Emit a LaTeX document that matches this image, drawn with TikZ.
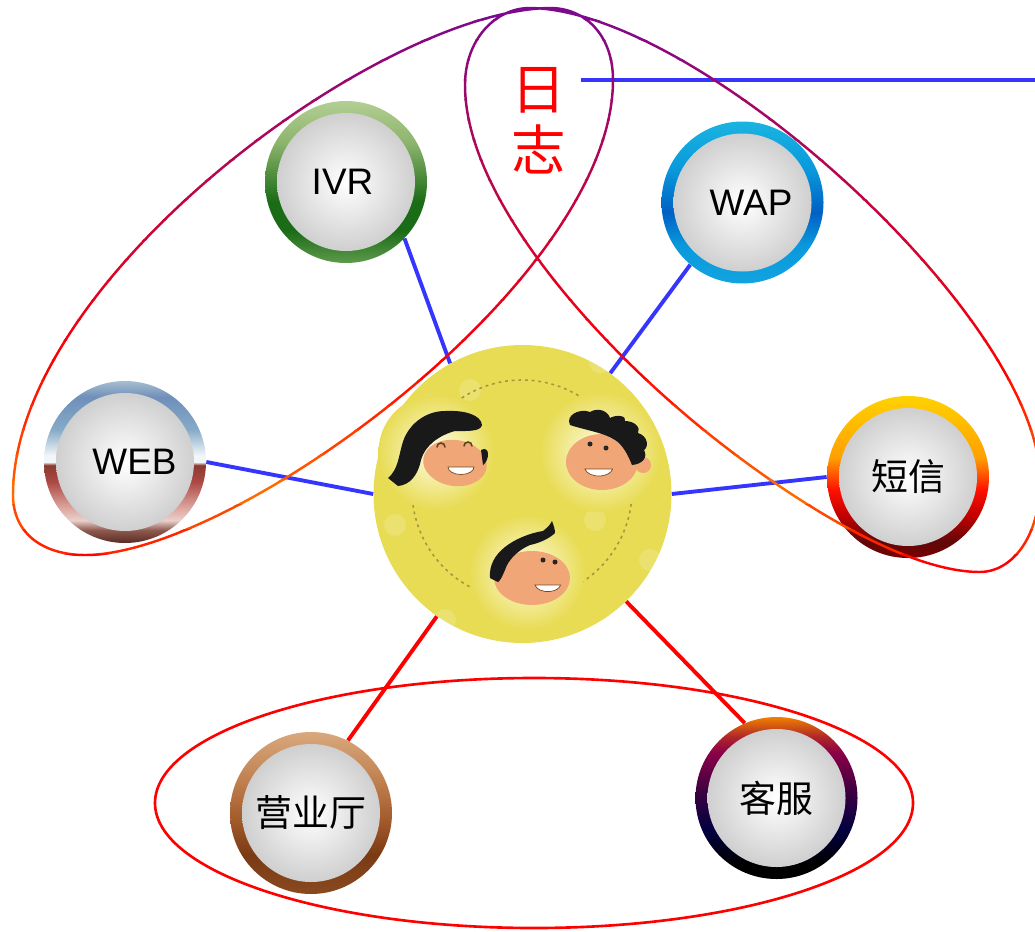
\documentclass[tikz,border=0pt]{standalone}
\usepackage{fontspec}
\setmainfont{Liberation Sans}
\newfontfamily\cjkfont{Noto Sans CJK SC}
\usetikzlibrary{calc}

\newcommand{\ringfont}{\fontsize{21}{24}\selectfont}

% ring colours (top / middle / bottom)
\definecolor{ivrT}{HTML}{B3CE93}
\definecolor{ivrL}{HTML}{8CB46C}
\definecolor{ivrD}{HTML}{1B6C16}
\definecolor{ivrB}{HTML}{5E9A4C}
\definecolor{wapT}{HTML}{19B4E0}
\definecolor{wapL}{HTML}{0A98DC}
\definecolor{wapD}{HTML}{0060C4}
\definecolor{wapB}{HTML}{12A4E0}
\definecolor{webT}{HTML}{A6BED0}
\definecolor{webS}{HTML}{6F8FBA}
\definecolor{webL}{HTML}{85AAC8}
\definecolor{webW}{HTML}{F2F6F8}
\definecolor{webR}{HTML}{8A3A30}
\definecolor{webM}{HTML}{AC4844}
\definecolor{webP}{HTML}{DCA49C}
\definecolor{webQ}{HTML}{EAD0CC}
\definecolor{webK}{HTML}{8E5A50}
\definecolor{webB}{HTML}{5A2A22}
\definecolor{smsT}{HTML}{FFD200}
\definecolor{smsO}{HTML}{FFA000}
\definecolor{smsR}{HTML}{FF1000}
\definecolor{smsD}{HTML}{C00000}
\definecolor{smsK}{HTML}{600808}
\definecolor{smsB}{HTML}{7A0000}
\definecolor{hallT}{HTML}{D8A87C}
\definecolor{hallL}{HTML}{C08050}
\definecolor{hallM}{HTML}{A05828}
\definecolor{hallD}{HTML}{7A3A14}
\definecolor{hallB}{HTML}{8A4A20}
\definecolor{svcT}{HTML}{F08000}
\definecolor{svcR}{HTML}{B02828}
\definecolor{svcM}{HTML}{8A0048}
\definecolor{svcP}{HTML}{3C0040}
\definecolor{svcN}{HTML}{000040}
\definecolor{svcB}{HTML}{000000}

\definecolor{hubyellow}{HTML}{E8DC55}
\definecolor{skin}{HTML}{F0A676}
\definecolor{glow}{HTML}{FFFDE8}
\definecolor{dotline}{HTML}{A8963C}
\definecolor{linkblue}{HTML}{3535FF}
\definecolor{loopPurple}{HTML}{7D0A8C}
\definecolor{loopRed}{HTML}{FF0000}
\definecolor{loopOrange}{HTML}{FF6A00}

% vertical ring shadings, interesting part between 25bp (bottom) and 75bp (top)
\pgfdeclareverticalshading{ivrring}{100bp}{color(0bp)=(ivrB); color(25bp)=(ivrB); color(35bp)=(ivrD); color(44bp)=(ivrD); color(62bp)=(ivrL); color(75bp)=(ivrT); color(100bp)=(ivrT)}
\pgfdeclareverticalshading{wapring}{100bp}{color(0bp)=(wapB); color(25bp)=(wapB); color(37bp)=(wapL); color(47bp)=(wapD); color(60bp)=(wapL); color(75bp)=(wapT); color(100bp)=(wapT)}
\pgfdeclareverticalshading{webring}{100bp}{color(0bp)=(webB); color(25bp)=(webB); color(29bp)=(webK); color(32bp)=(webQ); color(36bp)=(webP); color(44bp)=(webM); color(49bp)=(webR); color(50bp)=(webW); color(52bp)=(webW); color(60bp)=(webL); color(70bp)=(webS); color(75bp)=(webT); color(100bp)=(webT)}
\pgfdeclareverticalshading{smsring}{100bp}{color(0bp)=(smsB); color(25bp)=(smsB); color(30bp)=(smsK); color(38bp)=(smsD); color(46bp)=(smsR); color(56bp)=(smsO); color(75bp)=(smsT); color(100bp)=(smsT)}
\pgfdeclareverticalshading{hallring}{100bp}{color(0bp)=(hallB); color(25bp)=(hallB); color(37bp)=(hallD); color(47bp)=(hallM); color(60bp)=(hallL); color(75bp)=(hallT); color(100bp)=(hallT)}
\pgfdeclareverticalshading{svcring}{100bp}{color(0bp)=(svcB); color(25bp)=(svcB); color(30bp)=(svcB); color(40bp)=(svcN); color(52bp)=(svcP); color(64bp)=(svcM); color(69bp)=(svcR); color(75bp)=(svcT); color(100bp)=(svcT)}

% the two long loops
\newcommand{\leftloop}{(12.26,-1.60) .. controls (12.26,-0.70) and (11.70,-0.16) .. (11.00,-0.16)
  .. controls (7.60,-0.20) and (0.26,-5.60) .. (0.26,-9.90)
  .. controls (0.26,-10.70) and (0.90,-11.10) .. (1.70,-11.10)
  .. controls (4.70,-11.10) and (12.26,-5.60) .. (12.26,-1.60) -- cycle}
\newcommand{\rightloop}{(9.30,-1.70) .. controls (9.30,-0.80) and (9.90,-0.16) .. (10.60,-0.16)
  .. controls (14.00,-0.20) and (20.80,-6.40) .. (20.80,-9.60)
  .. controls (20.80,-10.80) and (20.20,-11.44) .. (19.60,-11.44)
  .. controls (17.80,-11.44) and (14.96,-9.38) .. (13.60,-8.20)
  .. controls (11.78,-6.64) and (9.30,-3.90) .. (9.30,-1.70) -- cycle}

\begin{document}
\begin{tikzpicture}[
  ring/.style={circle, minimum size=3.24cm, inner sep=0pt, shade, font=\ringfont,
    path picture={\shade[inner color=white, outer color=black!22] (path picture bounding box.center) circle (1.38cm);}},
  hubdisc/.style={circle, minimum size=5.96cm, inner sep=0pt, fill=hubyellow},
  logtext/.style={text=red, font=\cjkfont\fontsize{31}{35}\selectfont, align=center, inner xsep=0.28cm},
  link/.style={line width=2.2pt, draw=linkblue},
  redlink/.style={line width=2.2pt, draw=red},
  loopline/.style={line width=1.4pt},
  groupline/.style={line width=1.5pt, draw=red},
  hair/.style={fill=black!90},
  smile/.style={fill=white, draw=brown!60!black, line width=0.4pt},
  eyeline/.style={draw=brown!50!black, line width=0.9pt, line cap=round}
]
  \useasboundingbox (0,0) rectangle (20.7,-18.62);

  % centre disc with the three faces
  \node[hubdisc] (hub) at (10.45,-9.88) {};
  \foreach \sx/\sy in {8.60/-8.10, 12.00/-7.25, 7.90/-10.50, 8.90/-12.40, 11.90/-10.40, 13.00/-11.20, 9.40/-7.80}
    \fill[white, opacity=0.15] (\sx,\sy) circle (0.22);
  \draw[dotline, line width=0.9pt, dash pattern=on 1.6pt off 2.2pt] (10.44,-9.80) circle (2.2);
  \shade[inner color=glow, outer color=hubyellow] (8.72,-9.04) circle (1.15);
  \shade[inner color=glow, outer color=hubyellow] (12.00,-9.04) circle (1.2);
  \shade[inner color=glow, outer color=hubyellow] (10.54,-11.44) circle (1.15);

  % girl, upper left
  \fill[skin, rotate around={-8:(9.10,-9.26)}] (9.10,-9.26) ellipse (0.64 and 0.46);
  \fill[hair] (7.76,-9.56) .. controls (7.96,-9.40) and (7.98,-9.10) .. (8.04,-8.90)
    .. controls (8.14,-8.50) and (8.50,-8.22) .. (8.90,-8.22)
    .. controls (9.30,-8.20) and (9.62,-8.30) .. (9.64,-8.50)
    .. controls (9.62,-8.64) and (9.30,-8.62) .. (9.10,-8.62)
    .. controls (8.80,-8.70) and (8.50,-8.90) .. (8.42,-9.20)
    .. controls (8.36,-9.50) and (8.20,-9.70) .. (7.96,-9.72) -- cycle;
  \fill[hair] (9.62,-9.00) .. controls (9.80,-8.90) and (9.80,-9.20) .. (9.66,-9.30) -- cycle;
  \draw[eyeline] (8.74,-8.94) arc[start angle=180, end angle=0, radius=0.08];
  \draw[eyeline] (9.28,-8.92) arc[start angle=180, end angle=0, radius=0.08];
  \draw[smile] (8.96,-9.34) arc[start angle=180, end angle=360, x radius=0.26, y radius=0.15] -- cycle;

  % curly boy, upper right
  \fill[skin] (12.86,-9.30) circle (0.16);
  \fill[skin] (12.04,-9.24) ellipse (0.72 and 0.56);
  \fill[hair] (11.40,-8.50) .. controls (11.30,-8.30) and (11.60,-8.16) .. (11.80,-8.24)
    .. controls (11.96,-8.14) and (12.16,-8.22) .. (12.20,-8.36)
    .. controls (12.34,-8.28) and (12.54,-8.32) .. (12.50,-8.42)
    .. controls (12.70,-8.42) and (12.82,-8.56) .. (12.76,-8.66)
    .. controls (12.96,-8.72) and (12.98,-8.94) .. (12.88,-9.00)
    .. controls (12.96,-9.14) and (12.86,-9.28) .. (12.64,-9.30)
    .. controls (12.56,-9.10) and (12.46,-8.90) .. (12.30,-8.80)
    .. controls (12.10,-8.66) and (11.70,-8.60) .. (11.40,-8.50) -- cycle;
  \fill[black!85] (11.80,-8.88) circle (0.05) (12.12,-8.96) circle (0.05);
  \draw[smile] (11.70,-9.38) arc[start angle=190, end angle=350, x radius=0.28, y radius=0.17] -- cycle;

  % boy, bottom
  \fill[skin] (10.64,-11.56) ellipse (0.76 and 0.54);
  \fill[hair] (9.80,-11.56) .. controls (9.78,-11.30) and (9.90,-11.10) .. (10.10,-10.94)
    .. controls (10.30,-10.78) and (10.60,-10.66) .. (10.86,-10.62)
    .. controls (10.96,-10.54) and (11.00,-10.50) .. (11.04,-10.42)
    .. controls (11.08,-10.52) and (11.10,-10.60) .. (11.10,-10.66)
    .. controls (11.00,-10.76) and (10.80,-10.86) .. (10.60,-10.90)
    .. controls (10.36,-11.00) and (10.16,-11.20) .. (10.10,-11.40)
    .. controls (10.04,-11.54) and (10.00,-11.62) .. (9.96,-11.64) -- cycle;
  \fill[black!85] (10.86,-11.20) circle (0.05) (11.10,-11.24) circle (0.05);
  \draw[smile] (10.70,-11.70) arc[start angle=190, end angle=350, x radius=0.26, y radius=0.16] -- cycle;

  % channel rings
  \node[ring, shading=ivrring] (ivr) at (6.92,-3.64) {IVR\hspace*{0.14cm}};
  \node[ring, shading=wapring] (wap) at (14.85,-4.05) {\hspace*{0.34cm}WAP};
  \node[ring, shading=webring] (web) at (2.50,-9.24) {\hspace*{0.38cm}WEB};
  \node[ring, shading=smsring] (sms) at (18.16,-9.54) {\cjkfont 短信};
  \node[ring, shading=hallring] (hall) at (6.22,-16.26) {\cjkfont 营业厅};
  \node[ring, shading=svcring] (svc) at (15.53,-15.96) {\cjkfont 客服};

  % log label and its line
  \node[logtext] (log) at (10.78,-2.42) {日\\志};
  \coordinate (logend) at (20.9,-1.6);
  \draw[link] (log.east |- logend) -- (logend);

  % connectors
  \draw[link] (ivr.-44) -- (hub.119);
  \draw[link] (wap.230) -- (hub.54);
  \draw[link] (web.0) -- (hub.180);
  \draw[link] (sms.180) -- (hub.0);
  \draw[redlink] (hall.63) -- (hub.235);
  \draw[redlink] (svc.113) -- (hub.314);

  % gradient strokes of the two big loops, drawn band by band
  \foreach \i in {0,...,18}{
    \pgfmathsetmacro{\ytop}{-0.4*\i}
    \pgfmathsetmacro{\mix}{100-100*\i/18}
    \begin{scope}
      \clip (-0.5,\ytop+0.01) rectangle (21.5,\ytop-0.41);
      \draw[loopline, draw=loopPurple!\mix!loopRed] \leftloop \rightloop;
    \end{scope}
  }
  \foreach \i in {1,...,5}{
    \pgfmathsetmacro{\ytop}{-7.6-0.5*(\i-1)}
    \pgfmathsetmacro{\mix}{20*\i}
    \begin{scope}
      \clip (-0.5,\ytop+0.01) rectangle (21.5,\ytop-0.51);
      \draw[loopline, draw=loopOrange!\mix!loopRed] \leftloop \rightloop;
    \end{scope}
  }
  \foreach \i in {1,...,4}{
    \pgfmathsetmacro{\ytop}{-10.1-0.5*(\i-1)}
    \pgfmathsetmacro{\mix}{max(0,100-33*\i)}
    \begin{scope}
      \clip (-0.5,\ytop+0.01) rectangle (21.5,\ytop-0.51);
      \draw[loopline, draw=loopOrange!\mix!loopRed] \leftloop \rightloop;
    \end{scope}
  }

  % lower group
  \draw[groupline] (10.68,-16.06) ellipse (7.58 and 2.5);
\end{tikzpicture}
\end{document}
